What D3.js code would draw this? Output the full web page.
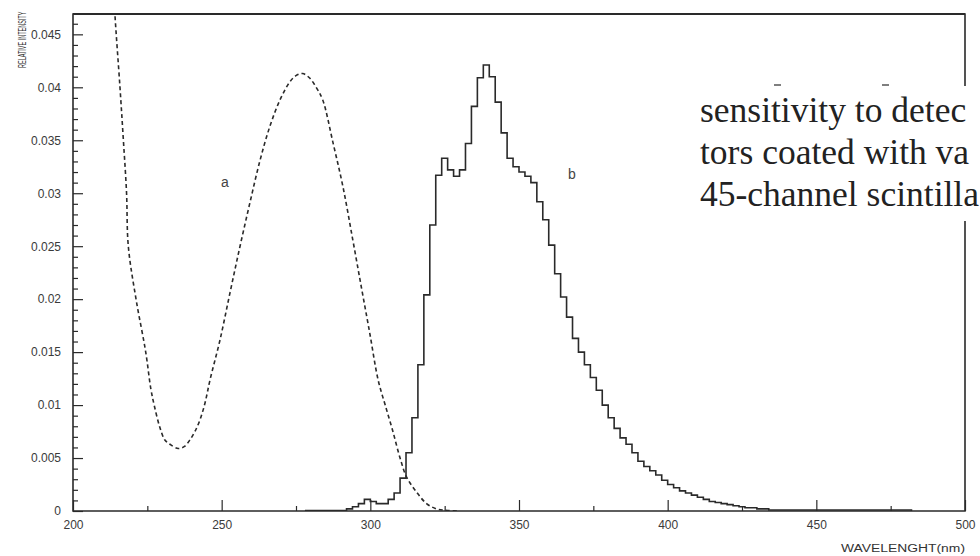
<!DOCTYPE html>
<html>
<head>
<meta charset="utf-8">
<script src="https://cdn.jsdelivr.net/npm/d3@7"></script>
<style>
  html, body { margin: 0; padding: 0; background: #fff; }
  svg { display: block; }
</style>
</head>
<body>
<svg id="chart" width="980" height="556"></svg>
<script>
// ---------------- DATA ----------------
// Curve a (dashed): wavelength (nm) and relative intensity
const aWavelength = [213.6, 214.1, 215.8, 216.9, 218.0, 218.6, 221.2, 224.4, 226.2, 227.3, 229.2, 230.9, 232.6, 235.4, 237.5, 239.3, 241.0, 242.7, 244.4, 246.1, 249.4, 252.8, 256.1, 259.5, 262.9, 266.2, 269.6, 272.9, 275.0, 277.2, 279.5, 282.0, 284.0, 287.5, 290.8, 294.1, 297.0, 299.8, 302.6, 305.0, 307.5, 310.0, 312.2, 315.5, 318.9, 322.3, 326.0, 330.0];
const aIntensity  = [0.0500, 0.0469, 0.0400, 0.0352, 0.0301, 0.0250, 0.0200, 0.0151, 0.0115, 0.0100, 0.0079, 0.0067, 0.0063, 0.0059, 0.0061, 0.0067, 0.0075, 0.0086, 0.0102, 0.0124, 0.0161, 0.0206, 0.0249, 0.0291, 0.0331, 0.0363, 0.0388, 0.0405, 0.0411, 0.0413, 0.0409, 0.0399, 0.0388, 0.0347, 0.0306, 0.0256, 0.0211, 0.0168, 0.0124, 0.0100, 0.0076, 0.0050, 0.0032, 0.0018, 0.0007, 0.0002, 0.00005, 0.0];

// Curve b (histogram): left bin edges (nm) and bin contents
const bBinEdges = [278, 280, 282, 284, 286, 288, 290, 292, 294, 296, 298, 300, 302, 304, 306, 308, 310, 312, 314, 316, 318, 320, 322, 324, 326, 328, 330, 332, 334, 336, 338, 340, 342, 344, 346, 348, 350, 352, 354, 356, 358, 360, 362, 364, 366, 368, 370, 372, 374, 376, 378, 380, 382, 384, 386, 388, 390, 392, 394, 396, 398, 400, 402, 404, 406, 408, 410, 412, 414, 416, 418, 420, 422, 424, 426, 428, 430, 432, 434, 436, 438, 440, 442, 444, 446, 448, 450, 452, 454, 456, 458, 460, 462, 464, 466, 468, 470, 472, 474, 476, 478, 480, 482];
const bCounts   = [0.00005, 0.00005, 0.00005, 0.00005, 0.00005, 0.00005, 0.00005, 0.0002, 0.0004, 0.0007, 0.0011, 0.0009, 0.0007, 0.0007, 0.0011, 0.0017, 0.0031, 0.0055, 0.0088, 0.0138, 0.0204, 0.0270, 0.0317, 0.0333, 0.0322, 0.0316, 0.0322, 0.0347, 0.0382, 0.0409, 0.0421, 0.0410, 0.0386, 0.0357, 0.0333, 0.0325, 0.0320, 0.0316, 0.0310, 0.0292, 0.0275, 0.0251, 0.0224, 0.0202, 0.0183, 0.0163, 0.0150, 0.0138, 0.0126, 0.0114, 0.0100, 0.0088, 0.0078, 0.0069, 0.0063, 0.0055, 0.0047, 0.0042, 0.0038, 0.0034, 0.0029, 0.0025, 0.0022, 0.0019, 0.0017, 0.0015, 0.0013, 0.0011, 0.0009, 0.0008, 0.0007, 0.0006, 0.0005, 0.0004, 0.0003, 0.0003, 0.0002, 0.0002, 0.0001, 0.0001, 0.0001, 0.0001, 0.0001, 0.0001, 0.0001, 0.0001, 0.0001, 0.0001, 0.0001, 0.0001, 0.0001, 0.0001, 0.0001, 0.0001, 0.0001, 0.0001, 0.0001, 0.0001, 0.0001, 0.0001, 0.0001, 0.0001, 0.0];

// Axis ticks
const xTickValues = [200, 250, 300, 350, 400, 450, 500];
const xTickLabels = ["200", "250", "300", "350", "400", "450", "500"];
const xMinorTicks = [225, 275, 325, 375, 425, 475];
const yTickValues = [0, 0.005, 0.01, 0.015, 0.02, 0.025, 0.03, 0.035, 0.04, 0.045];
const yTickLabels = ["0", "0.005", "0.01", "0.015", "0.02", "0.025", "0.03", "0.035", "0.04", "0.045"];

// Texts
const xTitle = "WAVELENGHT(nm)";
const yTitle = "RELATIVE INTENSITY";
const curveLabels = [{name: "a", wl: 251.1, val: 0.0306}, {name: "b", wl: 367.8, val: 0.0313}];
const overlayLines = ["sensitivity to detec", "tors coated with va", "45-channel scintilla"];

// ---------------- LAYOUT ----------------
const svg = d3.select("#chart");
const L = 73, R = 965, T = 14, B = 511;
const x = d3.scaleLinear().domain([200, 500]).range([L, R]);
const y = d3.scaleLinear().domain([0, 0.04692]).range([B, T]);
const ink = "#2a2a2a";

svg.append("defs").append("clipPath").attr("id", "plotclip")
  .append("rect").attr("x", L).attr("y", T).attr("width", R - L).attr("height", B - T);

// Minor ticks
const yMinor = d3.range(1, 47).map(d => d / 1000).filter(d => Math.round(d * 1000) % 5 !== 0);
svg.append("g").attr("transform", `translate(${L},0)`)
  .call(d3.axisLeft(y).tickValues(yMinor).tickSize(-5).tickFormat(""))
  .call(g => g.select(".domain").remove())
  .call(g => g.selectAll("line").attr("stroke", ink).attr("stroke-width", 1.2));
svg.append("g").attr("transform", `translate(0,${B})`)
  .call(d3.axisBottom(x).tickValues(xMinorTicks).tickSize(-5).tickFormat(""))
  .call(g => g.select(".domain").remove())
  .call(g => g.selectAll("line").attr("stroke", ink).attr("stroke-width", 1.2));

// Major axes
const yAxis = svg.append("g").attr("transform", `translate(${L},0)`)
  .call(d3.axisLeft(y).tickValues(yTickValues).tickSize(-10).tickPadding(12)
    .tickFormat((d, i) => yTickLabels[i]));
yAxis.select(".domain").remove();
yAxis.selectAll("line").attr("stroke", ink).attr("stroke-width", 1.2);
yAxis.selectAll("text").attr("font-family", "Liberation Sans, Arial, sans-serif")
  .attr("font-size", 12).attr("fill", "#3a3a3a");

const xAxis = svg.append("g").attr("transform", `translate(0,${B})`)
  .call(d3.axisBottom(x).tickValues(xTickValues).tickSize(-11).tickPadding(9)
    .tickFormat((d, i) => xTickLabels[i]));
xAxis.select(".domain").remove();
xAxis.selectAll("line").attr("stroke", ink).attr("stroke-width", 1.2);
xAxis.selectAll("text").attr("font-family", "Liberation Sans, Arial, sans-serif")
  .attr("font-size", 12).attr("fill", "#3a3a3a");

// Frame
svg.append("path")
  .attr("d", `M${L},${B}H${R}V${T}H${L}Z`)
  .attr("fill", "none").attr("stroke", ink).attr("stroke-width", 1.6);
svg.append("line").attr("x1", L).attr("x2", R).attr("y1", T).attr("y2", T)
  .attr("stroke", ink).attr("stroke-width", 2.2);

// Curve a (dashed)
const aData = aWavelength.map((w, i) => [w, aIntensity[i]]);
svg.append("path")
  .datum(aData)
  .attr("clip-path", "url(#plotclip)")
  .attr("fill", "none")
  .attr("stroke", ink)
  .attr("stroke-width", 1.6)
  .attr("stroke-dasharray", "4,3")
  .attr("d", d3.line().x(d => x(d[0])).y(d => y(d[1])).curve(d3.curveCatmullRom.alpha(0.5)));

// Curve b (histogram steps)
const bData = bBinEdges.map((w, i) => [w, bCounts[i]]);
svg.append("path")
  .datum(bData)
  .attr("clip-path", "url(#plotclip)")
  .attr("fill", "none")
  .attr("stroke", ink)
  .attr("stroke-width", 1.6)
  .attr("d", d3.line().x(d => x(d[0])).y(d => y(d[1])).curve(d3.curveStepAfter));

// Curve labels
svg.selectAll("text.clabel").data(curveLabels).enter().append("text")
  .attr("class", "clabel")
  .attr("x", d => x(d.wl)).attr("y", d => y(d.val))
  .attr("text-anchor", "middle")
  .attr("font-family", "Liberation Sans, Arial, sans-serif")
  .attr("font-size", 14).attr("fill", "#444")
  .text(d => d.name);

// Axis titles
svg.append("text")
  .attr("x", R).attr("y", 552)
  .attr("text-anchor", "end")
  .attr("font-family", "Liberation Sans, Arial, sans-serif")
  .attr("font-size", 10).attr("fill", "#333")
  .attr("textLength", 124).attr("lengthAdjust", "spacingAndGlyphs")
  .text(xTitle);
svg.append("text")
  .attr("transform", "translate(26,68) rotate(-90) scale(0.5,1)")
  .attr("font-family", "Liberation Sans, Arial, sans-serif")
  .attr("font-size", 11).attr("fill", "#333")
  .text(yTitle);

// Overlapping page text (white patch)
const ov = svg.append("g");
ov.append("rect").attr("x", 690).attr("y", 86).attr("width", 290).attr("height", 135).attr("fill", "#fff");
ov.append("line").attr("x1", 774).attr("x2", 781).attr("y1", 85).attr("y2", 85).attr("stroke", "#555").attr("stroke-width", 1.5);
ov.append("line").attr("x1", 882).attr("x2", 889).attr("y1", 85).attr("y2", 85).attr("stroke", "#555").attr("stroke-width", 1.5);
ov.selectAll("text").data(overlayLines).enter().append("text")
  .attr("x", 700).attr("y", (d, i) => 122 + i * 42)
  .attr("font-family", "Liberation Serif, 'DejaVu Serif', serif")
  .attr("font-size", 35.5).attr("fill", "#222")
  .text(d => d);
</script>
</body>
</html>
